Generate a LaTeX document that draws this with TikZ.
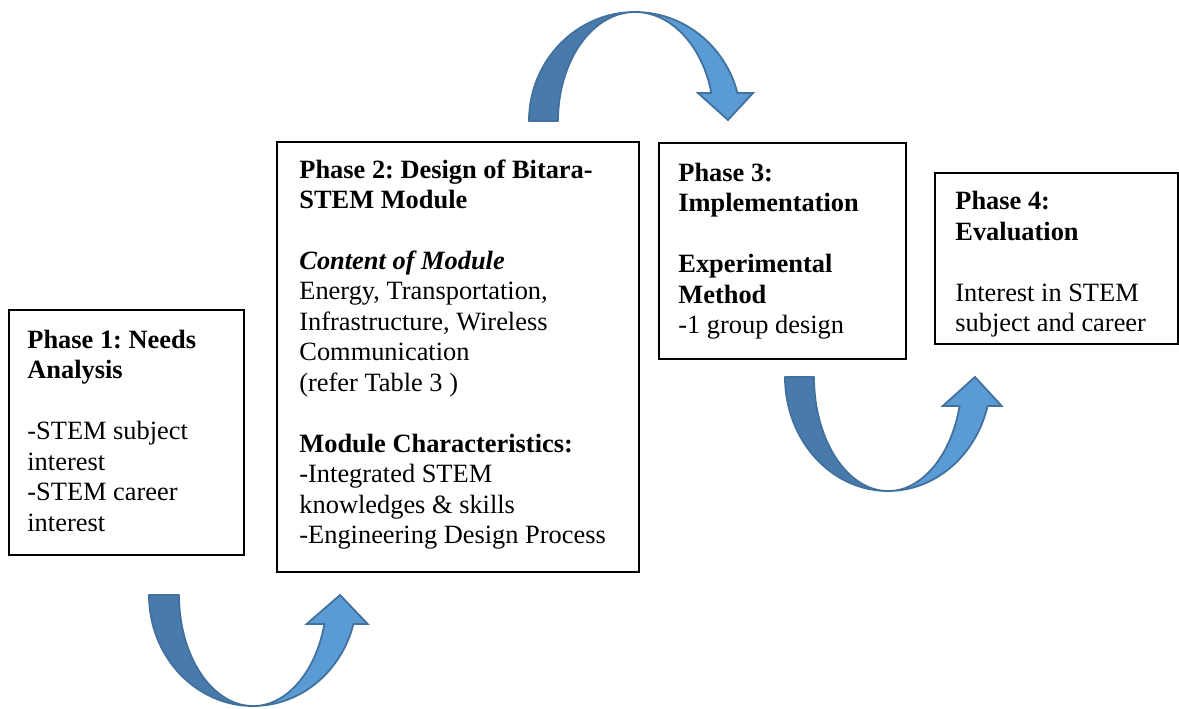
\documentclass[tikz,border=0pt]{standalone}
\usepackage{fontspec}
\setmainfont{Liberation Serif}
\frenchspacing
\definecolor{arrdark}{RGB}{72,122,171}
\definecolor{arrlight}{RGB}{91,155,213}
\definecolor{arrline}{RGB}{65,113,156}
\tikzset{
  box/.style={draw=black, line width=0.75pt, rectangle, inner sep=0pt, anchor=north west},
  txt/.style={anchor=north west, inner sep=0pt, align=left, font=\fontsize{13.2pt}{15.25pt}\selectfont\frenchspacing},
  backpart/.style={fill=arrdark, draw=arrline, line width=0.9pt, line join=round},
  frontpart/.style={fill=arrlight, draw=arrline, line width=0.9pt, line join=miter},
}
\begin{document}
\begin{tikzpicture}[x=0.5pt, y=0.5pt]
\useasboundingbox (0,0) rectangle (1179,-708);
% boxes
\node[box, minimum width=117.5pt, minimum height=122.5pt] (b1) at (8,-309) {};
\node[box, minimum width=181pt, minimum height=215pt] (b2) at (276,-141) {};
\node[box, minimum width=123.5pt, minimum height=108pt] (b3) at (658,-142) {};
\node[box, minimum width=121.5pt, minimum height=85.5pt] (b4) at (934,-172) {};
% texts
\node[txt] (t1) at (27,-329.5) {\textbf{Phase 1: Needs}\\ \textbf{Analysis}\\ \mbox{}\\ -STEM subject\\ interest\\ -STEM career\\ interest};
\node[txt] (t2) at (299,-159) {\textbf{Phase 2: Design of Bitara-}\\ \textbf{STEM Module}\\ \mbox{}\\ \textbf{\textit{Content of Module}}\\ Energy, Transportation,\\ Infrastructure, Wireless\\ Communication\\ (refer Table 3 )\\ \mbox{}\\ \textbf{Module Characteristics:}\\ -Integrated STEM\\ knowledges \& skills\\ -Engineering Design Process};
\node[txt] (t3) at (678,-162.5) {\textbf{Phase 3:}\\ \textbf{Implementation}\\ \mbox{}\\ \textbf{Experimental}\\ \textbf{Method}\\ -1 group design};
\node[txt] (t4) at (955,-191) {\textbf{Phase 4:}\\ \textbf{Evaluation}\\ \mbox{}\\ Interest in STEM\\ subject and career};
% top curved arrow (phase 2 -> phase 3)
\path[backpart] (529,-121) arc[start angle=180, end angle=90, x radius=106, y radius=109]
  arc[start angle=90, end angle=180, x radius=77, y radius=109] -- cycle;
\path[frontpart] (635,-12) arc[start angle=90, end angle=14.9, x radius=106, y radius=109]
  -- (753,-93) -- (728,-120) -- (698,-93) -- (711.4,-93)
  arc[start angle=14.9, end angle=90, x radius=79, y radius=109] -- cycle;
% bottom-left curved arrow (phase 1 -> phase 2)
\path[backpart] (149,-595) arc[start angle=180, end angle=270, x radius=104, y radius=111]
  arc[start angle=270, end angle=180, x radius=74, y radius=111] -- cycle;
\path[frontpart] (253,-706) arc[start angle=270, end angle=344.9, x radius=104, y radius=111]
  -- (367.7,-624) -- (340,-595) -- (306.7,-624) -- (324.4,-624)
  arc[start angle=344.9, end angle=270, x radius=74, y radius=111] -- cycle;
% bottom-right curved arrow (phase 3 -> phase 4)
\path[backpart] (785,-377) arc[start angle=180, end angle=270, x radius=103, y radius=114]
  arc[start angle=270, end angle=180, x radius=74, y radius=114] -- cycle;
\path[frontpart] (888,-491) arc[start angle=270, end angle=345.3, x radius=103, y radius=114]
  -- (1001.7,-406) -- (975,-377) -- (942.7,-406) -- (959.6,-406)
  arc[start angle=345.3, end angle=270, x radius=74, y radius=114] -- cycle;
\end{tikzpicture}
\end{document}
